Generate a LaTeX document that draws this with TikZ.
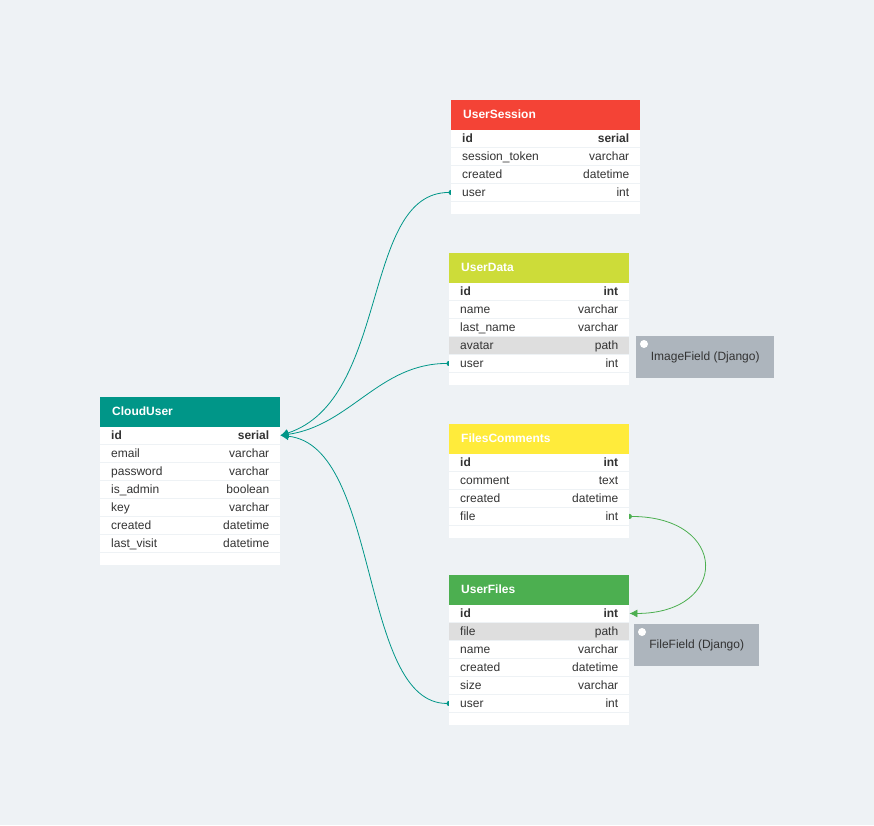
\documentclass[tikz,border=0pt]{standalone}
\usepackage{fontspec}
\setmainfont{Liberation Sans}
\usetikzlibrary{arrows.meta}
\pgfdeclarelayer{paper}
\pgfdeclarelayer{links}
\pgfsetlayers{paper,links,main}

\definecolor{canvas}{HTML}{EEF2F5}
\definecolor{cloudteal}{HTML}{009688}
\definecolor{sessionred}{HTML}{F44336}
\definecolor{datalime}{HTML}{CDDC39}
\definecolor{commentyellow}{HTML}{FFEB3B}
\definecolor{filegreen}{HTML}{4CAF50}
\definecolor{notegray}{HTML}{ADB5BD}
\definecolor{markgray}{HTML}{DEDEDE}
\definecolor{ink}{HTML}{333333}

\begin{document}
\begin{tikzpicture}
[x=1pt,y=-1pt,%
  every node/.style={inner ysep=0pt,font=\fontsize{12}{14}\selectfont,text=ink},%
  head/.style={anchor=north west,fill=#1,minimum height=30pt,text width=156pt,inner xsep=12pt,%
    text height=8.5pt,text depth=2.5pt,text=white,font=\fontsize{12}{14}\selectfont\bfseries},%
  row/.style={anchor=north west,fill=white,minimum height=16.5pt,text width=158pt,inner xsep=11pt,%
    text height=9.5pt,text depth=1.5pt},%
  note/.style={anchor=north west,fill=notegray,minimum height=42pt,text height=8.5pt,text depth=2.5pt},%
  link/.style={line width=0.8pt,{Circle[length=5pt]}-{Latex[length=8pt,width=8pt]},shorten <=-2.5pt}]
\useasboundingbox (0,0) rectangle (874,825);
\begin{pgfonlayer}{paper}
  \fill[canvas] (0,0) rectangle (874,825);
\end{pgfonlayer}

% CloudUser
\node[head=cloudteal] (cu) at (100,397) {CloudUser};
\foreach \f/\t [count=\i] in {\textbf{id}/\textbf{serial},email/varchar,password/varchar,%
    is\_admin/boolean,key/varchar,created/datetime,last\_visit/datetime}
  \node[row] (cu\i) at (100,{409+18*\i}) {\f\hfill\t};
\fill[white] (100,553) rectangle (280,565);

% UserSession
\node[head=sessionred,text width=165pt] (ss) at (451,100) {UserSession};
\foreach \f/\t [count=\i] in {\textbf{id}/\textbf{serial},session\_token/varchar,created/datetime,user/int}
  \node[row,text width=167pt] (ss\i) at (451,{112+18*\i}) {\f\hfill\t};
\fill[white] (451,202) rectangle (640,214);

% UserData
\node[head=datalime] (ud) at (449,253) {UserData};
\foreach \f/\t/\c [count=\i] in {\textbf{id}/\textbf{int}/white,name/varchar/white,%
    last\_name/varchar/white,avatar/path/markgray,user/int/white}
  \node[row,fill=\c] (ud\i) at (449,{265+18*\i}) {\f\hfill\t};
\fill[white] (449,373) rectangle (629,385);
\node[note,minimum width=138pt] (imgnote) at (636,336) {ImageField (Django)};
\fill[white] ([shift={(8,8)}]imgnote.north west) circle (4pt);

% FilesComments
\node[head=commentyellow] (fc) at (449,424) {FilesComments};
\foreach \f/\t [count=\i] in {\textbf{id}/\textbf{int},comment/text,created/datetime,file/int}
  \node[row] (fc\i) at (449,{436+18*\i}) {\f\hfill\t};
\fill[white] (449,526) rectangle (629,538);

% UserFiles
\node[head=filegreen] (uf) at (449,575) {UserFiles};
\foreach \f/\t/\c [count=\i] in {\textbf{id}/\textbf{int}/white,file/path/markgray,name/varchar/white,%
    created/datetime/white,size/varchar/white,user/int/white}
  \node[row,fill=\c] (uf\i) at (449,{587+18*\i}) {\f\hfill\t};
\fill[white] (449,713) rectangle (629,725);
\node[note,minimum width=125pt] (filenote) at (634,624) {FileField (Django)};
\fill[white] ([shift={(8,8)}]filenote.north west) circle (4pt);

% relations
\begin{pgfonlayer}{links}
  \draw[link,cloudteal] (ss4.west) .. controls +(-90,0) and +(110,-36) .. (cu1.east);
  \draw[link,cloudteal] (ud5.west) .. controls +(-70,0) and +(70,-10) .. (cu1.east);
  \draw[link,cloudteal] (uf6.west) .. controls +(-90,0) and +(100,10) .. (cu1.east);
  \draw[link,filegreen] (fc4.east) .. controls +(100,0) and +(100,0) .. (uf1.east);
\end{pgfonlayer}
\end{tikzpicture}
\end{document}
